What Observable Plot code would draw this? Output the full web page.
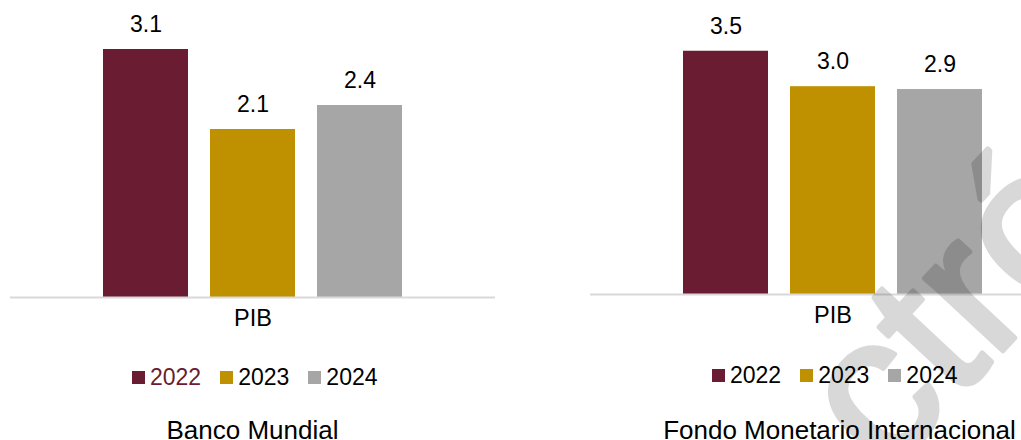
<!DOCTYPE html>
<html><head><meta charset="utf-8">
<script src="https://cdn.jsdelivr.net/npm/d3@7"></script>
<script src="https://cdn.jsdelivr.net/npm/@observablehq/plot@0.6"></script>
<style>
body{margin:0;background:#fff;font-family:"Liberation Sans",Arial,sans-serif;}
#root{position:relative;width:1021px;height:440px;overflow:hidden;background:#fff;}
.panel{position:absolute;top:0;width:505px;}
.panel svg{max-width:none !important;display:block;}
.legend{position:absolute;display:flex;align-items:center;font-size:23px;line-height:1;white-space:nowrap;color:#000;}
.legend .item{display:flex;align-items:center;margin-right:19px;}
.legend .item:last-child{margin-right:0;}
.legend .sw{width:13px;height:13px;margin-right:5px;display:inline-block;}
.title{position:absolute;font-size:26px;line-height:1;white-space:nowrap;color:#000;transform:translateX(-50%);}
#wm{position:absolute;left:0;top:0;pointer-events:none;}
</style></head><body><div id="root"></div>
<script>
const years = ["2022", "2023", "2024"];
const colors = ["#691C32", "#BF9000", "#A6A6A6"];
const category = "PIB";
const valuesBM = [3.1, 2.1, 2.4];
const valuesFMI = [3.5, 2.99, 2.949];
const titles = ["Banco Mundial", "Fondo Monetario Internacional"];
const yMaxBM = 3.5;
const yMaxFMI = 4;
const watermark = "ctró";

const root = document.getElementById("root");
const font = "Liberation Sans, Arial, sans-serif";

function makePanel(values, ymax, marginTop, plotH) {
  const data = years.map((y, i) => ({year: y, value: values[i]}));
  return Plot.plot({
    width: 505,
    height: marginTop + plotH + 50,
    marginTop, marginBottom: 50, marginLeft: 10, marginRight: 10,
    style: {fontFamily: font, fontSize: "23px", color: "#000", background: "transparent", overflow: "visible", maxWidth: "none"},
    x: {domain: years, paddingInner: 0.2056, paddingOuter: 0.869, axis: null},
    y: {domain: [0, ymax], axis: null},
    color: {domain: years, range: colors},
    marks: [
      Plot.barY(data, {x: "year", y: "value", fill: "year"}),
      Plot.ruleY([0], {stroke: "#d9d9d9", strokeWidth: 2}),
      Plot.text(data, {x: "year", y: "value", text: d => d3.format(".1f")(d.value), dy: -25, fill: "#000", fontSize: 23}),
      Plot.text([category], {frameAnchor: "bottom", text: d => d, dy: 28, fill: "#000", fontSize: 23.5})
    ]
  });
}

function addPanel(left, values, ymax, mt, ph) {
  const d = document.createElement("div");
  d.className = "panel";
  d.style.left = left + "px";
  d.appendChild(makePanel(values, ymax, mt, ph));
  root.appendChild(d);
}
addPanel(0, valuesBM, yMaxBM, 17, 280);
addPanel(580, valuesFMI, yMaxFMI, 16, 278);

function addLegend(left, top, firstColored) {
  const lg = document.createElement("div");
  lg.className = "legend";
  lg.style.left = left + "px";
  lg.style.top = top + "px";
  years.forEach((y, i) => {
    const it = document.createElement("span");
    it.className = "item";
    const sw = document.createElement("span");
    sw.className = "sw";
    sw.style.background = colors[i];
    const t = document.createElement("span");
    t.textContent = y;
    if (firstColored && i === 0) t.style.color = colors[0];
    it.appendChild(sw); it.appendChild(t);
    lg.appendChild(it);
  });
  root.appendChild(lg);
}
addLegend(132, 366, true);
addLegend(712, 364, false);

function addTitle(cx, top, text) {
  const t = document.createElement("div");
  t.className = "title";
  t.style.left = cx + "px";
  t.style.top = top + "px";
  t.textContent = text;
  root.appendChild(t);
}
addTitle(252.5, 417, titles[0]);
addTitle(839.5, 417, titles[1]);

// watermark
const svgNS = "http://www.w3.org/2000/svg";
const wm = document.createElementNS(svgNS, "svg");
wm.setAttribute("id", "wm");
wm.setAttribute("width", 1021);
wm.setAttribute("height", 440);
const g = document.createElementNS(svgNS, "g");
g.setAttribute("opacity", 0.15);
const tx = document.createElementNS(svgNS, "text");
tx.setAttribute("x", 886);
tx.setAttribute("y", 476);
tx.setAttribute("transform", "rotate(-47 886 476)");
tx.setAttribute("font-family", font);
tx.setAttribute("font-size", 202);
tx.setAttribute("fill", "#000");
tx.setAttribute("stroke", "#000");
tx.setAttribute("stroke-width", 5);
tx.setAttribute("stroke-linejoin", "round");
tx.textContent = watermark;
g.appendChild(tx);
wm.appendChild(g);
root.appendChild(wm);
</script>
</body></html>
